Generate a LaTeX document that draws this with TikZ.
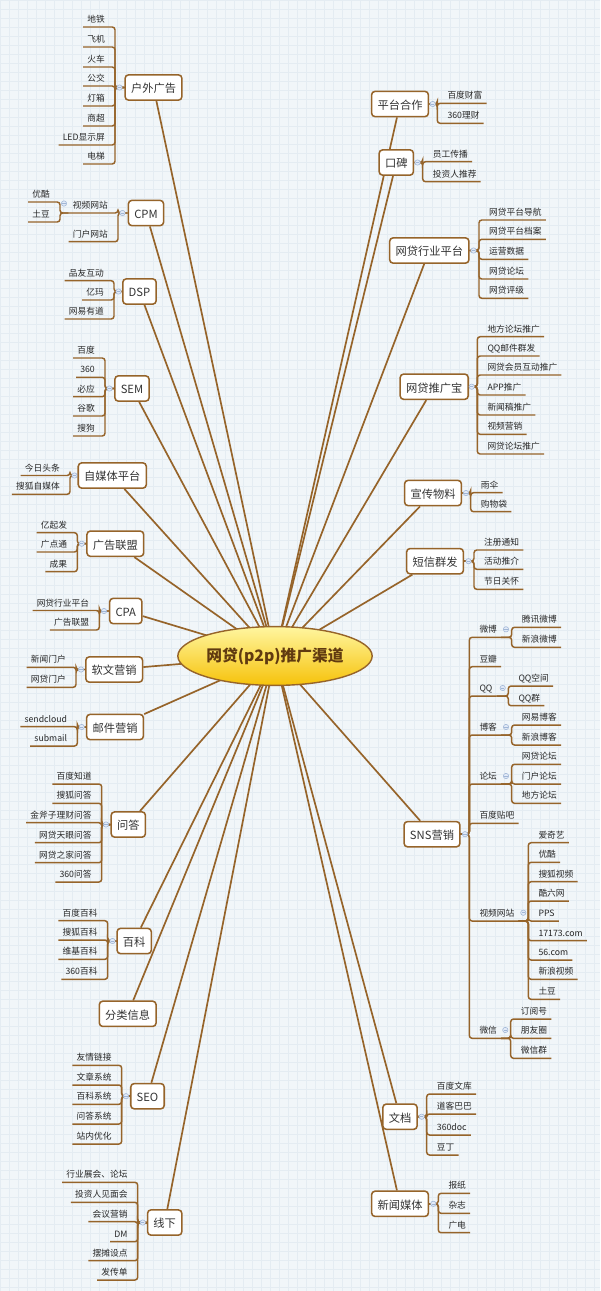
\documentclass[tikz,border=0pt]{standalone}
\usepackage{fontspec}
\setmainfont{Noto Sans CJK SC}
\usetikzlibrary {arrows.meta, shapes.geometric, backgrounds}
\definecolor{mapline}{RGB}{150,100,42}
\definecolor{paper}{RGB}{241,246,249}
\definecolor{gridc}{RGB}{228,236,242}
\definecolor{foldline}{RGB}{160,182,214}
\definecolor{foldfill}{RGB}{226,234,247}
\definecolor{hubtop}{RGB}{255,246,160}
\definecolor{hubbot}{RGB}{246,194,10}
\definecolor{hubtext}{RGB}{96,58,16}
\definecolor{leaftext}{RGB}{40,40,40}
\newcommand{\leaffont}{\fontsize{6.2}{7.4}\selectfont}
\newcommand{\topicfont}{\fontsize{8}{9.6}\selectfont}
\tikzset{
    >={Latex},
    topic/.style={draw=mapline, line width=1.1pt, rounded corners=2.5pt, fill=white,
        font=\topicfont, text=black!80, inner xsep=4.2pt, inner ysep=0pt,
        minimum height=18pt, text height=0.88em, text depth=0.12em},
    leafl/.style={anchor=south east, font=\leaffont, text=leaftext, inner xsep=2.8pt,
        inner ysep=2.9pt, text height=0.88em, text depth=0pt},
    leafr/.style={leafl, anchor=south west},
    link/.style={draw=mapline, line width=1.05pt, rounded corners=2pt},
    spoke/.style={draw=mapline, line width=1.2pt},
    fold/.style={circle, draw=foldline, fill=foldfill, line width=0.4pt, inner sep=0pt,
        minimum size=3.8pt, path picture={
            \draw[foldline, line width=0.4pt]
                ([xshift=-1.1pt]path picture bounding box.center) --
                ([xshift=1.1pt]path picture bounding box.center);}},
    hub/.style={ellipse, draw=mapline, line width=1pt, top color=hubtop, bottom color=hubbot,
        minimum width=130.5pt, minimum height=41.8pt, inner sep=0pt, text=hubtext,
        font=\bfseries\fontsize{11.2}{13}\selectfont}
}
\begin{document}
\begin{tikzpicture}[x=0.025cm, y=-0.025cm]
    \useasboundingbox (0,0) rectangle (600,1291);
    % centre
    \node[hub] (hub) at (275,656) {网贷(p2p)推广渠道};

    % ---------- left side ----------
    % 户外广告
    \node[topic] (hw) at (153.5,87.5) {户外广告};
    \coordinate (hwb) at (115,87.5);
    \foreach \t/\y [count=\i] in {地铁/27, 飞机/47, 火车/67, 公交/86, 灯箱/106, 商超/126, LED显示屏/145, 电梯/164}{
        \node[leafl] (hw\i) at (109,\y) {\t};
        \draw[link] (hw.west) -- (hwb) |- (hw\i.south west);
    }
    \node[fold] (hwf) at (119.5,87.5) {};
    % CPM
    \node[topic] (cpm) at (146,213) {CPM};
    \coordinate (cpmb) at (118,213);
    \foreach \t/\y [count=\i] in {视频网站/213, 门户网站/241.7}{
        \node[leafl] (cpm\i) at (112,\y) {\t};
        \draw[link] (cpm.west) -- (cpmb) |- (cpm\i.south west);
    }
    \node[fold] (cpmf) at (122.5,213) {};
    \coordinate (cpm1b) at (60,213);
    \foreach \t/\y [count=\i] in {优酷/202, 土豆/222}{
        \node[leafl] (sp\i) at (54,\y) {\t};
        \draw[link] (cpm1.south west) -- (cpm1b) |- (sp\i.south west);
    }
    \node[fold] (cpm1f) at (64,203.5) {};
    % DSP
    \node[topic] (dsp) at (139.5,291.5) {DSP};
    \coordinate (dspb) at (114,291.5);
    \foreach \t/\y [count=\i] in {品友互动/280.7, 亿玛/300, 网易有道/319}{
        \node[leafl] (dsp\i) at (108,\y) {\t};
        \draw[link] (dsp.west) -- (dspb) |- (dsp\i.south west);
    }
    \node[fold] (dspf) at (118.5,291.5) {};
    % SEM
    \node[topic] (sem) at (132,388.5) {SEM};
    \coordinate (semb) at (105,388.5);
    \foreach \t/\y [count=\i] in {百度/358, 360/377.3, 必应/396.7, 谷歌/416, 搜狗/436}{
        \node[leafl] (sem\i) at (99,\y) {\t};
        \draw[link] (sem.west) -- (semb) |- (sem\i.south west);
    }
    \node[fold] (semf) at (109.5,388.5) {};
    % 自媒体平台
    \node[topic] (zmt) at (112.3,475.5) {自媒体平台};
    \coordinate (zmtb) at (70,475.5);
    \foreach \t/\y [count=\i] in {今日头条/475.5, 搜狐自媒体/494.3}{
        \node[leafl] (zmt\i) at (64,\y) {\t};
        \draw[link] (zmt.west) -- (zmtb) |- (zmt\i.south west);
    }
    \node[fold] (zmtf) at (74.5,475.5) {};
    % 广告联盟
    \node[topic] (ggl) at (115.3,543.7) {广告联盟};
    \coordinate (gglb) at (77.3,543.7);
    \foreach \t/\y [count=\i] in {亿起发/532.7, 广点通/552, 成果/571.7}{
        \node[leafl] (ggl\i) at (71.3,\y) {\t};
        \draw[link] (ggl.west) -- (gglb) |- (ggl\i.south west);
    }
    \node[fold] (gglf) at (81.7,543.7) {};
    % CPA
    \node[topic] (cpa) at (125.8,611) {CPA};
    \coordinate (cpab) at (99.3,611);
    \foreach \t/\y [count=\i] in {网贷行业平台/610.5, 广告联盟/630}{
        \node[leafl] (cpa\i) at (93.3,\y) {\t};
        \draw[link] (cpa.west) -- (cpab) |- (cpa\i.south west);
    }
    \node[fold] (cpaf) at (104,611) {};
    % 软文营销
    \node[topic] (rw) at (114.2,669.5) {软文营销};
    \coordinate (rwb) at (76,669.5);
    \foreach \t/\y [count=\i] in {新闻门户/667.3, 网贷门户/687.3}{
        \node[leafl] (rw\i) at (70,\y) {\t};
        \draw[link] (rw.west) -- (rwb) |- (rw\i.south west);
    }
    \node[fold] (rwf) at (81,669.5) {};
    % 邮件营销
    \node[topic] (yj) at (115,727) {邮件营销};
    \coordinate (yjb) at (77.3,727);
    \foreach \t/\y [count=\i] in {sendcloud/726.7, submail/746}{
        \node[leafl] (yj\i) at (71.3,\y) {\t};
        \draw[link] (yj.west) -- (yjb) |- (yj\i.south west);
    }
    \node[fold] (yjf) at (81.7,727) {};
    % 问答
    \node[topic] (wd) at (128.3,824.5) {问答};
    \coordinate (wdb) at (101.7,824.5);
    \foreach \t/\y [count=\i] in {百度知道/784, 搜狐问答/803.3, 金斧子理财问答/822.7, 网贷天眼问答/842.7, 网贷之家问答/862.7, 360问答/882}{
        \node[leafl] (wd\i) at (95.7,\y) {\t};
        \draw[link] (wd.west) -- (wdb) |- (wd\i.south west);
    }
    \node[fold] (wdf) at (106,824.5) {};
    % 百科
    \node[topic] (bk) at (134.2,941) {百科};
    \coordinate (bkb) at (107.7,941);
    \foreach \t/\y [count=\i] in {百度百科/920.7, 搜狐百科/940, 维基百科/959.3, 360百科/979.3}{
        \node[leafl] (bk\i) at (101.7,\y) {\t};
        \draw[link] (bk.west) -- (bkb) |- (bk\i.south west);
    }
    \node[fold] (bkf) at (112.5,941) {};
    % 分类信息
    \node[topic] (flxx) at (127.7,1013.8) {分类信息};
    % SEO
    \node[topic] (seo) at (147.5,1096.2) {SEO};
    \coordinate (seob) at (121.7,1096.2);
    \foreach \t/\y [count=\i] in {友情链接/1065.3, 文章系统/1085, 百科系统/1104.3, 问答系统/1124, 站内优化/1144}{
        \node[leafl] (seo\i) at (115.7,\y) {\t};
        \draw[link] (seo.west) -- (seob) |- (seo\i.south west);
    }
    \node[fold] (seof) at (126,1096.2) {};
    % 线下
    \node[topic] (xx) at (164.7,1222.5) {线下};
    \coordinate (xxb) at (137.7,1222.5);
    \foreach \t/\y [count=\i] in {行业展会、论坛/1182.3, 投资人见面会/1202.3, 会议营销/1221.7, DM/1241.7, 摆摊设点/1260.7, 发传单/1280}{
        \node[leafl] (xx\i) at (131.7,\y) {\t};
        \draw[link] (xx.west) -- (xxb) |- (xx\i.south west);
    }
    \node[fold] (xxf) at (142.7,1222.5) {};

    % ---------- right side ----------
    % 平台合作
    \node[topic] (pthz) at (400,104) {平台合作};
    \coordinate (pthzb) at (437.3,104);
    \foreach \t/\y [count=\i] in {百度财富/103.3, 360理财/123.3}{
        \node[leafr] (pthz\i) at (443.3,\y) {\t};
        \draw[link] (pthz.east) -- (pthzb) |- (pthz\i.south east);
    }
    \node[fold] (pthzf) at (432.7,104) {};
    % 口碑
    \node[topic] (kb) at (396.3,162.5) {口碑};
    \coordinate (kbb) at (422.7,162.5);
    \foreach \t/\y [count=\i] in {员工传播/161.7, 投资人推荐/181.7}{
        \node[leafr] (kb\i) at (428.7,\y) {\t};
        \draw[link] (kb.east) -- (kbb) |- (kb\i.south east);
    }
    \node[fold] (kbf) at (417.5,162.5) {};
    % 网贷行业平台
    \node[topic] (hypt) at (429.3,250.5) {网贷行业平台};
    \coordinate (hyptb) at (479,250.5);
    \foreach \t/\y [count=\i] in {网贷平台导航/220, 网贷平台档案/239.3, 运营数据/259.3, 网贷论坛/279, 网贷评级/298.3}{
        \node[leafr] (hypt\i) at (485,\y) {\t};
        \draw[link] (hypt.east) -- (hyptb) |- (hypt\i.south east);
    }
    \node[fold] (hyptf) at (473.5,250.5) {};
    % 网贷推广宝
    \node[topic] (tgb) at (434.2,386.7) {网贷推广宝};
    \coordinate (tgbb) at (477.3,386.7);
    \foreach \t/\y [count=\i] in {地方论坛推广/336.7, QQ邮件群发/356, 网贷会员互动推广/375, APP推广/395, 新闻稿推广/415, 视频营销/434.3, 网贷论坛推广/454}{
        \node[leafr] (tgb\i) at (483.3,\y) {\t};
        \draw[link] (tgb.east) -- (tgbb) |- (tgb\i.south east);
    }
    \node[fold] (tgbf) at (471.7,386.7) {};
    % 宣传物料
    \node[topic] (xcwl) at (433,493) {宣传物料};
    \coordinate (xcwlb) at (470.7,493);
    \foreach \t/\y [count=\i] in {雨伞/492.7, 购物袋/511.7}{
        \node[leafr] (xcwl\i) at (476.7,\y) {\t};
        \draw[link] (xcwl.east) -- (xcwlb) |- (xcwl\i.south east);
    }
    \node[fold] (xcwlf) at (466,493) {};
    % 短信群发
    \node[topic] (dx) at (435,561.2) {短信群发};
    \coordinate (dxb) at (474,561.2);
    \foreach \t/\y [count=\i] in {注册通知/550, 活动推介/569.3, 节日关怀/589.3}{
        \node[leafr] (dx\i) at (480,\y) {\t};
        \draw[link] (dx.east) -- (dxb) |- (dx\i.south east);
    }
    \node[fold] (dxf) at (468.5,561.2) {};
    % SNS营销
    \node[topic] (sns) at (432,834.2) {SNS营销};
    \coordinate (snsb) at (469.3,834.2);
    \foreach \t/\y [count=\i] in {微博/637.3, 豆瓣/666.7, QQ/696, 博客/735, 论坛/784, 百度贴吧/823.3, 视频网站/921, 微信/1038.3}{
        \node[leafr] (sns\i) at (475.3,\y) {\t};
        \draw[link] (sns.east) -- (snsb) |- (sns\i.south east);
    }
    \node[fold] (snsf) at (465,834.2) {};
    % 微博
    \coordinate (sns1b) at (511.7,637.3);
    \foreach \t/\y [count=\i] in {腾讯微博/627.3, 新浪微博/647.3}{
        \node[leafr] (wb\i) at (517.7,\y) {\t};
        \draw[link] (sns1.south east) -- (sns1b) |- (wb\i.south east);
    }
    \node[fold] (sns1f) at (506,629.3) {};
    % QQ
    \coordinate (sns3b) at (508.3,696);
    \foreach \t/\y [count=\i] in {QQ空间/686, QQ群/705.7}{
        \node[leafr] (qq\i) at (514.3,\y) {\t};
        \draw[link] (sns3.south east) -- (sns3b) |- (qq\i.south east);
    }
    \node[fold] (sns3f) at (502.7,688) {};
    % 博客
    \coordinate (sns4b) at (511.7,735);
    \foreach \t/\y [count=\i] in {网易博客/725, 新浪博客/745}{
        \node[leafr] (bl\i) at (517.7,\y) {\t};
        \draw[link] (sns4.south east) -- (sns4b) |- (bl\i.south east);
    }
    \node[fold] (sns4f) at (506,727) {};
    % 论坛
    \coordinate (sns5b) at (511.7,784);
    \foreach \t/\y [count=\i] in {网贷论坛/764.3, 门户论坛/784, 地方论坛/803.3}{
        \node[leafr] (lt\i) at (517.7,\y) {\t};
        \draw[link] (sns5.south east) -- (sns5b) |- (lt\i.south east);
    }
    \node[fold] (sns5f) at (506,776) {};
    % 视频网站
    \coordinate (sns7b) at (528.3,921);
    \foreach \t/\y [count=\i] in {爱奇艺/842.7, 优酷/862.3, 搜狐视频/881.7, 酷六网/901, PPS/921, 17173.com/940.7, 56.com/960, 新浪视频/979.3, 土豆/999.3}{
        \node[leafr] (vw\i) at (534.3,\y) {\t};
        \draw[link] (sns7.south east) -- (sns7b) |- (vw\i.south east);
    }
    \node[fold] (sns7f) at (523.3,912.7) {};
    % 微信
    \coordinate (sns8b) at (510.7,1038.3);
    \foreach \t/\y [count=\i] in {订阅号/1019, 朋友圈/1038.3, 微信群/1058.3}{
        \node[leafr] (wx\i) at (516.7,\y) {\t};
        \draw[link] (sns8.south east) -- (sns8b) |- (wx\i.south east);
    }
    \node[fold] (sns8f) at (505.3,1030) {};
    % 文档
    \node[topic] (wdoc) at (400,1116.7) {文档};
    \coordinate (wdocb) at (426.7,1116.7);
    \foreach \t/\y [count=\i] in {百度文库/1094, 道客巴巴/1114, 360doc/1135, 豆丁/1155}{
        \node[leafr] (wdoc\i) at (432.7,\y) {\t};
        \draw[link] (wdoc.east) -- (wdocb) |- (wdoc\i.south east);
    }
    \node[fold] (wdocf) at (421.7,1116.7) {};
    % 新闻媒体
    \node[topic] (xwmt) at (400,1203.8) {新闻媒体};
    \coordinate (xwmtb) at (438.3,1203.8);
    \foreach \t/\y [count=\i] in {报纸/1193.3, 杂志/1213.3, 广电/1232.7}{
        \node[leafr] (xwmt\i) at (444.3,\y) {\t};
        \draw[link] (xwmt.east) -- (xwmtb) |- (xwmt\i.south east);
    }
    \node[fold] (xwmtf) at (433.3,1203.8) {};

    \begin{scope}[on background layer]
        % paper and grid
        \fill[paper] (0,0) rectangle (600,1291);
        \foreach \x in {0,9,...,600}{
            \draw[gridc, line width=0.3pt] (\x,0) -- (\x,1291);
        }
        \foreach \y in {0,9,...,1291}{
            \draw[gridc, line width=0.3pt] (0,\y) -- (600,\y);
        }
        % spokes from the centre
        \foreach \b in {hw, cpm, dsp, sem, zmt, ggl, cpa, rw, yj, wd, bk, flxx, seo, xx,
                        pthz, kb, hypt, tgb, xcwl, dx, sns, wdoc, xwmt}{
            \draw[spoke] (hub.center) -- (\b);
        }
    \end{scope}
\end{tikzpicture}
\end{document}
